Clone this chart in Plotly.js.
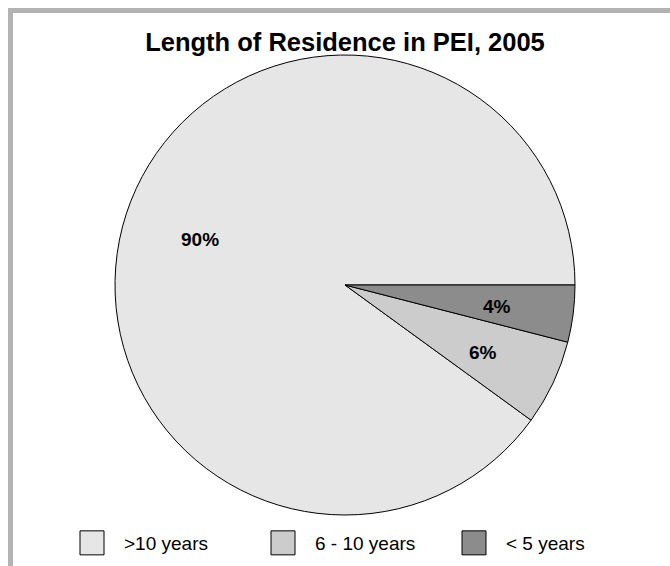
<!DOCTYPE html>
<html>
<head>
<meta charset="utf-8">
<script src="https://cdn.plot.ly/plotly-3.0.1.min.js"></script>
<style>
  html, body { margin: 0; padding: 0; background: #fff; }
  #wrap { position: relative; width: 670px; height: 566px; }
  #chart { width: 670px; height: 566px; }
  .frame { position: absolute; background: #b3b3b3; pointer-events: none; }
  .legendpie { vector-effect: non-scaling-stroke; }
</style>
</head>
<body>
<div id="wrap">
  <div id="chart"></div>
  <div class="frame" style="left:8px; top:8px; width:662px; height:5px;"></div>
  <div class="frame" style="left:8px; top:8px; width:5px; height:558px;"></div>
</div>
<script>
const categories = ['>10 years', '6 - 10 years', '< 5 years'];
const shares = [90, 6, 4];
const sliceColors = ['#e6e6e6', '#cccccc', '#8c8c8c'];
const chartTitle = 'Length of Residence in PEI, 2005';

// plot-area geometry (pixels)
const W = 670, H = 566;
const M = { l: 20, r: 20, t: 55, b: 51 };
const pw = W - M.l - M.r, ph = H - M.t - M.b;
const pieCx = 345, pieR = 230;
const dom = [(pieCx - pieR - M.l) / pw, (pieCx + pieR - M.l) / pw];

const trace = {
  type: 'pie',
  labels: categories,
  values: shares,
  sort: false,
  direction: 'counterclockwise',
  rotation: 126,
  domain: { x: dom, y: [0, 1] },
  marker: { colors: sliceColors, line: { color: '#000000', width: 1 } },
  textinfo: 'none',
  hoverinfo: 'label+percent'
};

// percentage labels placed at the middle angle of each slice (from the data)
const total = shares.reduce((a, b) => a + b, 0);
const labelRadius = 0.665;
let cum = 0;
const annotations = shares.map(function (v) {
  const mid = (cum + v / 2) / total * 2 * Math.PI; // counterclockwise from 3 o'clock
  cum += v;
  const px = pieCx + labelRadius * pieR * Math.cos(mid);
  const pyFromBottom = pieR + labelRadius * pieR * Math.sin(mid);
  return {
    xref: 'paper', yref: 'paper',
    x: (px - M.l) / pw,
    y: pyFromBottom / ph,
    yshift: -2,
    text: '<b>' + v + '%</b>',
    showarrow: false,
    xanchor: 'center', yanchor: 'middle',
    font: { family: 'Liberation Sans, Arial, sans-serif', size: 19, color: '#000000' }
  };
});

const layout = {
  width: W,
  height: H,
  paper_bgcolor: '#ffffff',
  plot_bgcolor: '#ffffff',
  margin: M,
  font: { family: 'Liberation Sans, Arial, sans-serif', color: '#000000' },
  title: {
    text: '<b>' + chartTitle + '</b>',
    font: { family: 'Liberation Sans, Arial, sans-serif', size: 25.5, color: '#000000' },
    x: 345 / 670, xanchor: 'center', xref: 'container',
    y: 1 - 42 / 566, yref: 'container', yanchor: 'middle'
  },
  annotations: annotations,
  showlegend: true,
  legend: {
    orientation: 'h',
    x: 60 / 670, xanchor: 'left', xref: 'container',
    y: 1 - 543 / 566, yref: 'container', yanchor: 'middle',
    font: { family: 'Liberation Sans, Arial, sans-serif', size: 19, color: '#000000' },
    itemwidth: 54,
    entrywidth: 122,
    entrywidthmode: 'pixels',
    traceorder: 'normal'
  }
};

Plotly.newPlot('chart', [trace], layout, { displayModeBar: false, staticPlot: true }).then(function (gd) {
  gd.querySelectorAll('.legendpoints path.legendpie').forEach(function (p) {
    const t = p.getAttribute('transform') || '';
    p.setAttribute('transform', t + ' scale(2)');
  });
});
</script>
</body>
</html>
